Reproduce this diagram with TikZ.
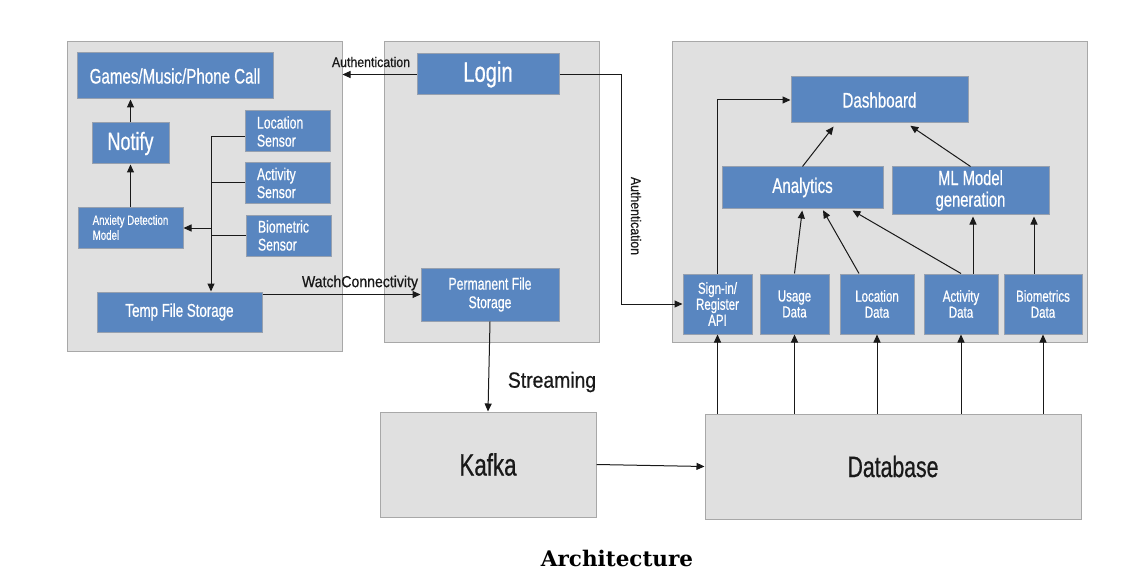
\documentclass[tikz,border=0pt]{standalone}
\usepackage{fontspec}
\newfontfamily\cf[FakeStretch=0.72,FakeBold=0.6]{Liberation Sans}
\newfontfamily\lf[FakeStretch=0.88,FakeBold=0.6]{Liberation Sans}
\newfontfamily\capfont{DejaVu Serif}
\usetikzlibrary{arrows.meta,calc}
\definecolor{boxblue}{RGB}{89,134,192}
\definecolor{boxbd}{RGB}{150,160,175}
\definecolor{contfill}{RGB}{224,224,224}
\definecolor{contbd}{RGB}{168,168,168}
\definecolor{ink}{RGB}{25,25,25}
\newcommand{\fs}[2]{\fontsize{#1}{#2}\selectfont}
\tikzset{
  cont/.style={draw=contbd, fill=contfill, line width=1pt, inner sep=0pt, rectangle},
  bbox/.style={draw=boxbd, fill=boxblue, line width=1pt, text=white, inner sep=0pt, align=center, rectangle},
  lbox/.style={bbox, align=left, inner xsep=#1},
  lbl/.style={text=ink, inner sep=0pt},
  arr/.style={draw=ink, line width=1pt, -{Triangle[length=8pt,width=7pt]}},
  ln/.style={draw=ink, line width=1pt},
}
\begin{document}
\begin{tikzpicture}[x=1pt,y=-1pt]
\useasboundingbox (0,0) rectangle (1126,588);
\fill[white] (0,0) rectangle (1126,588);
% containers
\node[cont, minimum width=275, minimum height=309] (L) at (204.5,196.5) {};
\node[cont, minimum width=215, minimum height=300] (M) at (491.5,192) {};
\node[cont, minimum width=415, minimum height=300] (R) at (879.5,192) {};
\node[cont, minimum width=216, minimum height=105, font=\cf\fs{31}{32}, text=ink] (Kafka) at (488,464.5) {Kafka};
\node[cont, minimum width=376, minimum height=105, font=\cf\fs{29.5}{31}, text=ink] (Database) at (893,466.5) {Database};
% left boxes
\node[bbox, minimum width=196, minimum height=46, font=\cf\fs{21}{22}] (Games) at (175,76) {Games/Music/Phone Call};
\node[bbox, minimum width=77, minimum height=41, font=\cf\fs{25}{26}] (Notify) at (130.5,143.5) {Notify};
\node[bbox, align=left, minimum width=105, minimum height=41, font=\cf\fs{13.5}{15}] (Anxiety) at (130.5,227.5) {Anxiety Detection\\Model};
\node[lbox=12pt, text width=61pt, minimum height=41, font=\cf\fs{17}{18}] (LocSensor) at (287.5,131.5) {Location\\Sensor};
\node[lbox=12pt, text width=61pt, minimum height=40, font=\cf\fs{17}{18}] (ActSensor) at (287.5,183) {Activity\\Sensor};
\node[lbox=12pt, text width=61pt, minimum height=41, font=\cf\fs{17}{18}] (BioSensor) at (288.5,235.5) {Biometric\\Sensor};
\node[bbox, minimum width=165, minimum height=40, font=\cf\fs{18.5}{20}] (Temp) at (179.5,312) {Temp File Storage};
% middle boxes
\node[bbox, minimum width=142, minimum height=41, font=\cf\fs{28}{30}] (Login) at (488,74.5) {Login};
\node[bbox, minimum width=138, minimum height=53, font=\cf\fs{17}{18.5}] (Perm) at (490,294.5) {Permanent File\\Storage};
% right boxes
\node[bbox, minimum width=177, minimum height=46, font=\cf\fs{21}{22}] (Dashboard) at (879.5,100) {Dashboard};
\node[bbox, minimum width=161, minimum height=41, font=\cf\fs{21}{22}] (Analytics) at (802.5,187.5) {Analytics};
\node[bbox, minimum width=157, minimum height=47, font=\cf\fs{20.5}{21.5}] (ML) at (970.5,190.5) {ML Model\\generation};
\node[bbox, minimum width=69, minimum height=60, font=\cf\fs{16}{16}] (SignIn) at (717.5,304) {Sign-in/\\Register\\API};
\node[bbox, minimum width=69, minimum height=60, font=\cf\fs{16}{16}] (Usage) at (794.5,304) {Usage\\Data};
\node[bbox, minimum width=74, minimum height=60, font=\cf\fs{16}{16}] (LocData) at (877,304) {Location\\Data};
\node[bbox, minimum width=74, minimum height=60, font=\cf\fs{16}{16}] (ActData) at (961,304) {Activity\\Data};
\node[bbox, minimum width=78, minimum height=60, font=\cf\fs{16}{16}] (BioData) at (1043,304) {Biometrics\\Data};
% labels
\node[lbl, font=\lf\fs{14}{15}] (authA) at (371,62) {Authentication};
\node[lbl, font=\lf\fs{14}{15}, rotate=-90] (authB) at (636,216) {Authentication};
\node[lbl, font=\lf\fs{16}{17}] (watch) at (360,283) {WatchConnectivity};
\node[lbl, font=\lf\fs{22}{24}] (stream) at (552,382) {Streaming};
\node[inner sep=0pt, font=\capfont\bfseries\fs{21.5}{23}] (caption) at (617,558) {Architecture};
% coordinates
\coordinate (busT) at (211,137);
\coordinate (busA) at (211,228);
\coordinate (authC) at (621,304);
% left connectors
\draw[arr] (Notify.north) -- (Notify.north |- Games.south);
\draw[arr] (Anxiety.north) -- (Anxiety.north |- Notify.south);
\draw[ln] (LocSensor.west |- busT) -- (busT);
\draw[ln] (ActSensor.west) -- (ActSensor.west -| busT);
\draw[ln] (BioSensor.west) -- (BioSensor.west -| busT);
\draw[arr] (busT) -- (busT |- Temp.north);
\draw[arr] (busA) -- (busA -| Anxiety.east);
% middle connectors
\draw[arr] (Login.west) -- (Login.west -| L.east);
\draw[arr] (Login.east) -- (Login.east -| authC) -- (authC) -- (SignIn.west);
\draw[arr] (Temp.east |- Perm.west) -- (Perm.west);
\draw[arr] (Perm.south) -- (Kafka.north);
\draw[arr] (Kafka.east) -- (Database.west);
% database up
\foreach \b in {SignIn,Usage,LocData,ActData,BioData}{
  \draw[arr] (\b.south |- Database.north) -- (\b.south);
}
% right connectors
\draw[arr] (SignIn.north) -- (SignIn.north |- Dashboard.west) -- (Dashboard.west);
\draw[arr, shorten >=4pt] (Analytics.north) -- ([xshift=-43.5pt]Dashboard.south);
\draw[arr, shorten >=4pt] (ML.north) -- ([xshift=27.5pt]Dashboard.south);
\draw[arr, shorten >=2pt] (Usage.north) -- (Analytics.south);
\draw[arr, shorten >=2pt] ([xshift=-18pt]LocData.north) -- ([xshift=19.5pt]Analytics.south);
\draw[arr, shorten >=4pt] (ActData.north) -- ([xshift=46.5pt]Analytics.south);
\draw[arr, shorten >=2pt] ([xshift=12pt]ActData.north) -- ([xshift=12pt]ActData.north |- ML.south);
\draw[arr, shorten >=2pt] ([xshift=-9pt]BioData.north) -- ([xshift=-9pt]BioData.north |- ML.south);
\end{tikzpicture}
\end{document}
